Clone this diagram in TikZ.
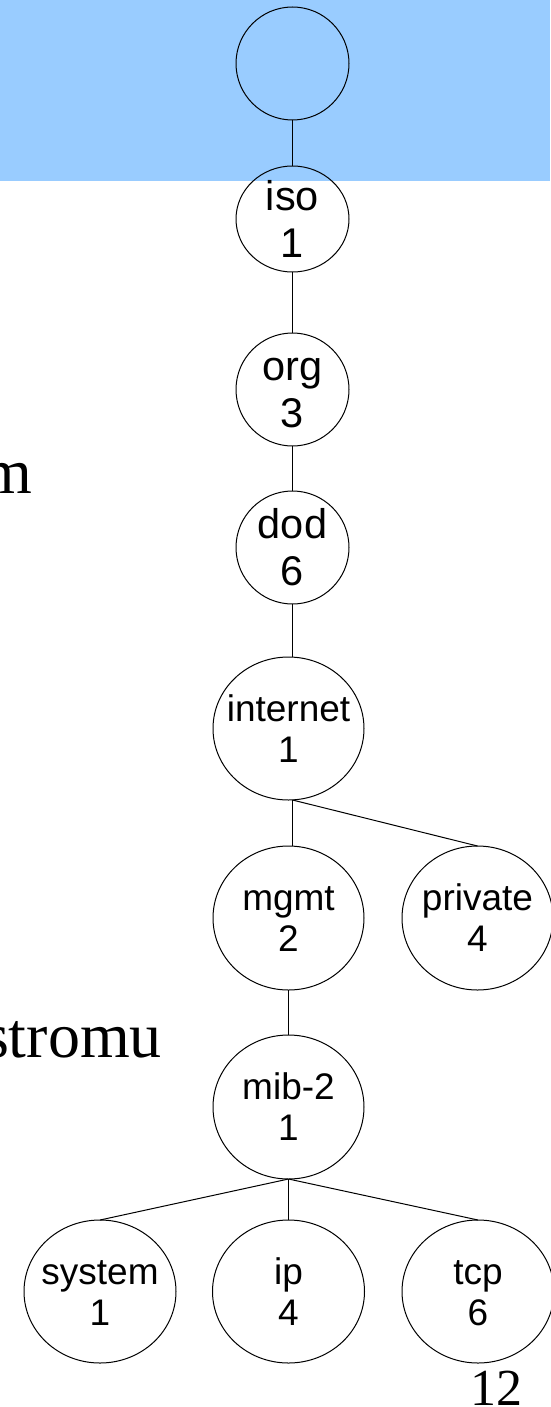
\documentclass[tikz,border=0pt]{standalone}
\usepackage{fontspec}
\setmainfont{Liberation Serif}
\newfontfamily\nodefont{Liberation Sans}
\usetikzlibrary{shapes.geometric}
\definecolor{bandblue}{HTML}{99CCFF}
\newcommand\oidlabel[2]{\rule{0pt}{0.72em}#1\\#2}
\begin{document}
\begin{tikzpicture}[x=1pt,y=-1pt,
  oid/.style={ellipse,draw=black,line width=1pt,inner sep=0pt,outer sep=0pt},
  smallbox/.style={oid,minimum width=113pt,minimum height=113pt},
  bigbox/.style={oid,minimum width=151pt,minimum height=144pt},
  smalltext/.style={align=center,inner sep=0pt,font=\nodefont\fontsize{41.5}{47}\selectfont},
  bigtext/.style={align=center,inner sep=0pt,font=\nodefont\fontsize{37}{41}\selectfont},
  link/.style={draw=black,line width=1pt},
  slide/.style={inner sep=0pt,font=\fontsize{64}{70}\selectfont},
  pagenum/.style={inner sep=0pt,font=\fontsize{52}{60}\selectfont}
]
\useasboundingbox (0,0) rectangle (550,1407);
\fill[bandblue] (0,0) rectangle (550,181.5);

% tree nodes
\node[smallbox] (root) at (292.5,63.5) {};
\node[smallbox,minimum height=106pt] (iso) at (292.5,219) {};
\node[smallbox] (org) at (292.5,389.5) {};
\node[smallbox] (dod) at (292.5,547.5) {};
\node[bigbox,minimum height=143pt] (internet) at (288.5,728.5) {};
\node[bigbox] (mgmt) at (288.5,918) {};
\node[bigbox] (private) at (477.5,918) {};
\node[bigbox] (mib) at (288.5,1107) {};
\node[bigbox,minimum width=152pt,minimum height=143pt] (system) at (100,1291.5) {};
\node[bigbox,minimum width=152pt,minimum height=143pt] (ip) at (288.5,1291.5) {};
\node[bigbox,minimum width=152pt,minimum height=143pt] (tcp) at (478,1291.5) {};

% labels
\node[smalltext] (isoT) at (iso) {\oidlabel{iso}{1}};
\node[smalltext] (orgT) at (org) {\oidlabel{org}{3}};
\node[smalltext] (dodT) at (dod) {\oidlabel{dod}{6}};
\node[bigtext] (internetT) at (internet) {\oidlabel{internet}{1}};
\node[bigtext] (mgmtT) at (mgmt) {\oidlabel{mgmt}{2}};
\node[bigtext] (privateT) at (private) {\oidlabel{private}{4}};
\node[bigtext] (mibT) at (mib) {\oidlabel{mib-2}{1}};
\node[bigtext] (systemT) at (system) {\oidlabel{system}{1}};
\node[bigtext] (ipT) at (ip) {\oidlabel{ip}{4}};
\node[bigtext] (tcpT) at (tcp) {\oidlabel{tcp}{6}};

% connectors
\draw[link] (root.south) -- (iso.north);
\draw[link] (iso.south) -- (org.north);
\draw[link] (org.south) -- (dod.north);
\draw[link] (dod.south) -- (dod.south |- internet.north);
\draw[link] (dod.south |- internet.south) -- (dod.south |- mgmt.north);
\draw[link] (dod.south |- internet.south) -- (private.north);
\draw[link] (mgmt.south) -- (mib.north);
\draw[link] (mib.south) -- (system.north);
\draw[link] (mib.south) -- (ip.north);
\draw[link] (mib.south) -- (tcp.north);

% slide text fragments
\node[slide,anchor=base east] (wordA) at (32,493) {m};
\node[slide,anchor=base east] (wordB) at (162,1057) {stromu};
\node[pagenum,anchor=base] (page) at (496,1405) {12};
\end{tikzpicture}
\end{document}
